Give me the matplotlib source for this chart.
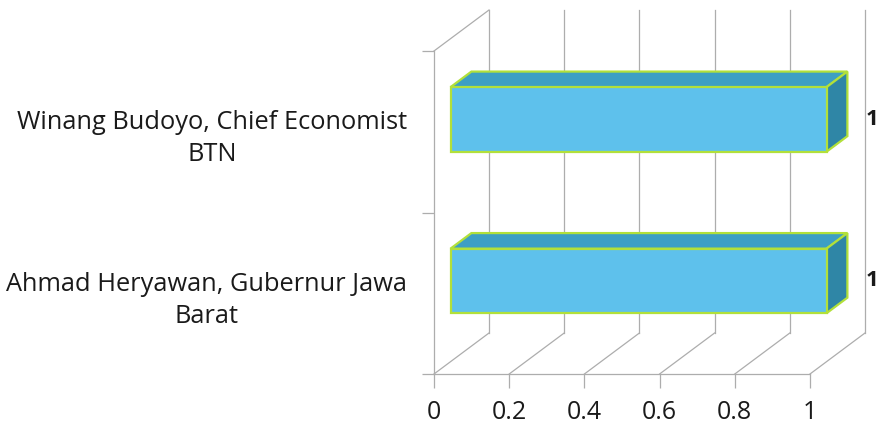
import matplotlib
matplotlib.use("Agg")
import matplotlib.pyplot as plt
from matplotlib.patches import Polygon

categories = ["Ahmad Heryawan, Gubernur Jawa\nBarat", "Winang Budoyo, Chief Economist\nBTN"]
values = [1, 1]
xticks = [0, 0.2, 0.4, 0.6, 0.8, 1]
xticklabels = ["0", "0.2", "0.4", "0.6", "0.8", "1"]

plt.rcParams['font.family'] = ['Open Sans', 'DejaVu Sans']

W, H = 880, 427
fig = plt.figure(figsize=(W / 100, H / 100), dpi=100)
ax_px = (434, 52, 376, 323)  # left, bottom, width, height in pixels
ax = fig.add_axes([ax_px[0] / W, ax_px[1] / H, ax_px[2] / W, ax_px[3] / H])
ax.set_xlim(0, 1)
ax.set_ylim(-0.5, 1.5)
ax.patch.set_visible(False)
for s in ax.spines.values():
    s.set_visible(False)

# depth offsets (pixels -> data units)
px_x = 1.0 / ax_px[2]
px_y = 2.0 / ax_px[3]
Dx = 55 * px_x
Dy = 41 * px_y

grid_c = "#adadad"
lw = 0.9
ymin, ymax = -0.5, 1.5
for t in xticks:
    ax.plot([t + Dx, t + Dx], [ymin + Dy, ymax + Dy], color=grid_c, lw=lw, clip_on=False, zorder=1)
    ax.plot([t, t + Dx], [ymin, ymin + Dy], color=grid_c, lw=lw, clip_on=False, zorder=1)
ax.plot([0, 1], [ymin, ymin], color=grid_c, lw=lw, clip_on=False, zorder=1)
ax.plot([0, 0], [ymin, ymax], color=grid_c, lw=lw, clip_on=False, zorder=1)
ax.plot([0, Dx], [ymax, ymax + Dy], color=grid_c, lw=lw, clip_on=False, zorder=1)

# bars
f0, f1 = 0.30, 0.68
h = 0.40
front_c = "#5ec1ec"
top_c = "#3d9fc4"
side_c = "#2f86a6"
edge_c = "#b2e03a"
ypos = list(range(len(categories)))
bars = ax.barh([y + f0 * Dy for y in ypos], values, height=h, left=f0 * Dx,
               color=front_c, edgecolor=edge_c, linewidth=1.6, zorder=4, clip_on=False)
for y, v in zip(ypos, values):
    yt = y + h / 2
    yb = y - h / 2
    top = Polygon([(f0 * Dx, yt + f0 * Dy), (v + f0 * Dx, yt + f0 * Dy),
                   (v + f1 * Dx, yt + f1 * Dy), (f1 * Dx, yt + f1 * Dy)],
                  closed=True, facecolor=top_c, edgecolor=edge_c, linewidth=1.6,
                  zorder=3, clip_on=False)
    side = Polygon([(v + f0 * Dx, yb + f0 * Dy), (v + f1 * Dx, yb + f1 * Dy),
                    (v + f1 * Dx, yt + f1 * Dy), (v + f0 * Dx, yt + f0 * Dy)],
                   closed=True, facecolor=side_c, edgecolor=edge_c, linewidth=1.6,
                   zorder=3, clip_on=False)
    ax.add_patch(top)
    ax.add_patch(side)
    ax.text(v + f1 * Dx + 18 * px_x, y + f0 * Dy + 1 * px_y, str(v),
            ha='left', va='center', fontsize=16, fontweight='bold', color="#1a1a1a")

# category labels
for y, lab in zip(ypos, categories):
    ax.text(-27 * px_x, y - 6 * px_y, lab, ha='right', va='center', multialignment='center',
            fontsize=18.3, linespacing=1.38, color="#1a1a1a", clip_on=False)

# axes ticks
ax.set_xticks(xticks)
ax.set_xticklabels(xticklabels, fontsize=18, color="#1a1a1a")
ax.tick_params(axis='x', length=10, width=lw, color=grid_c, pad=8)
ax.set_yticks([-0.5, 0.5, 1.5])
ax.set_yticklabels([])
ax.tick_params(axis='y', length=9, width=lw, color=grid_c)

fig.savefig("out.png", dpi=100, facecolor="white")
